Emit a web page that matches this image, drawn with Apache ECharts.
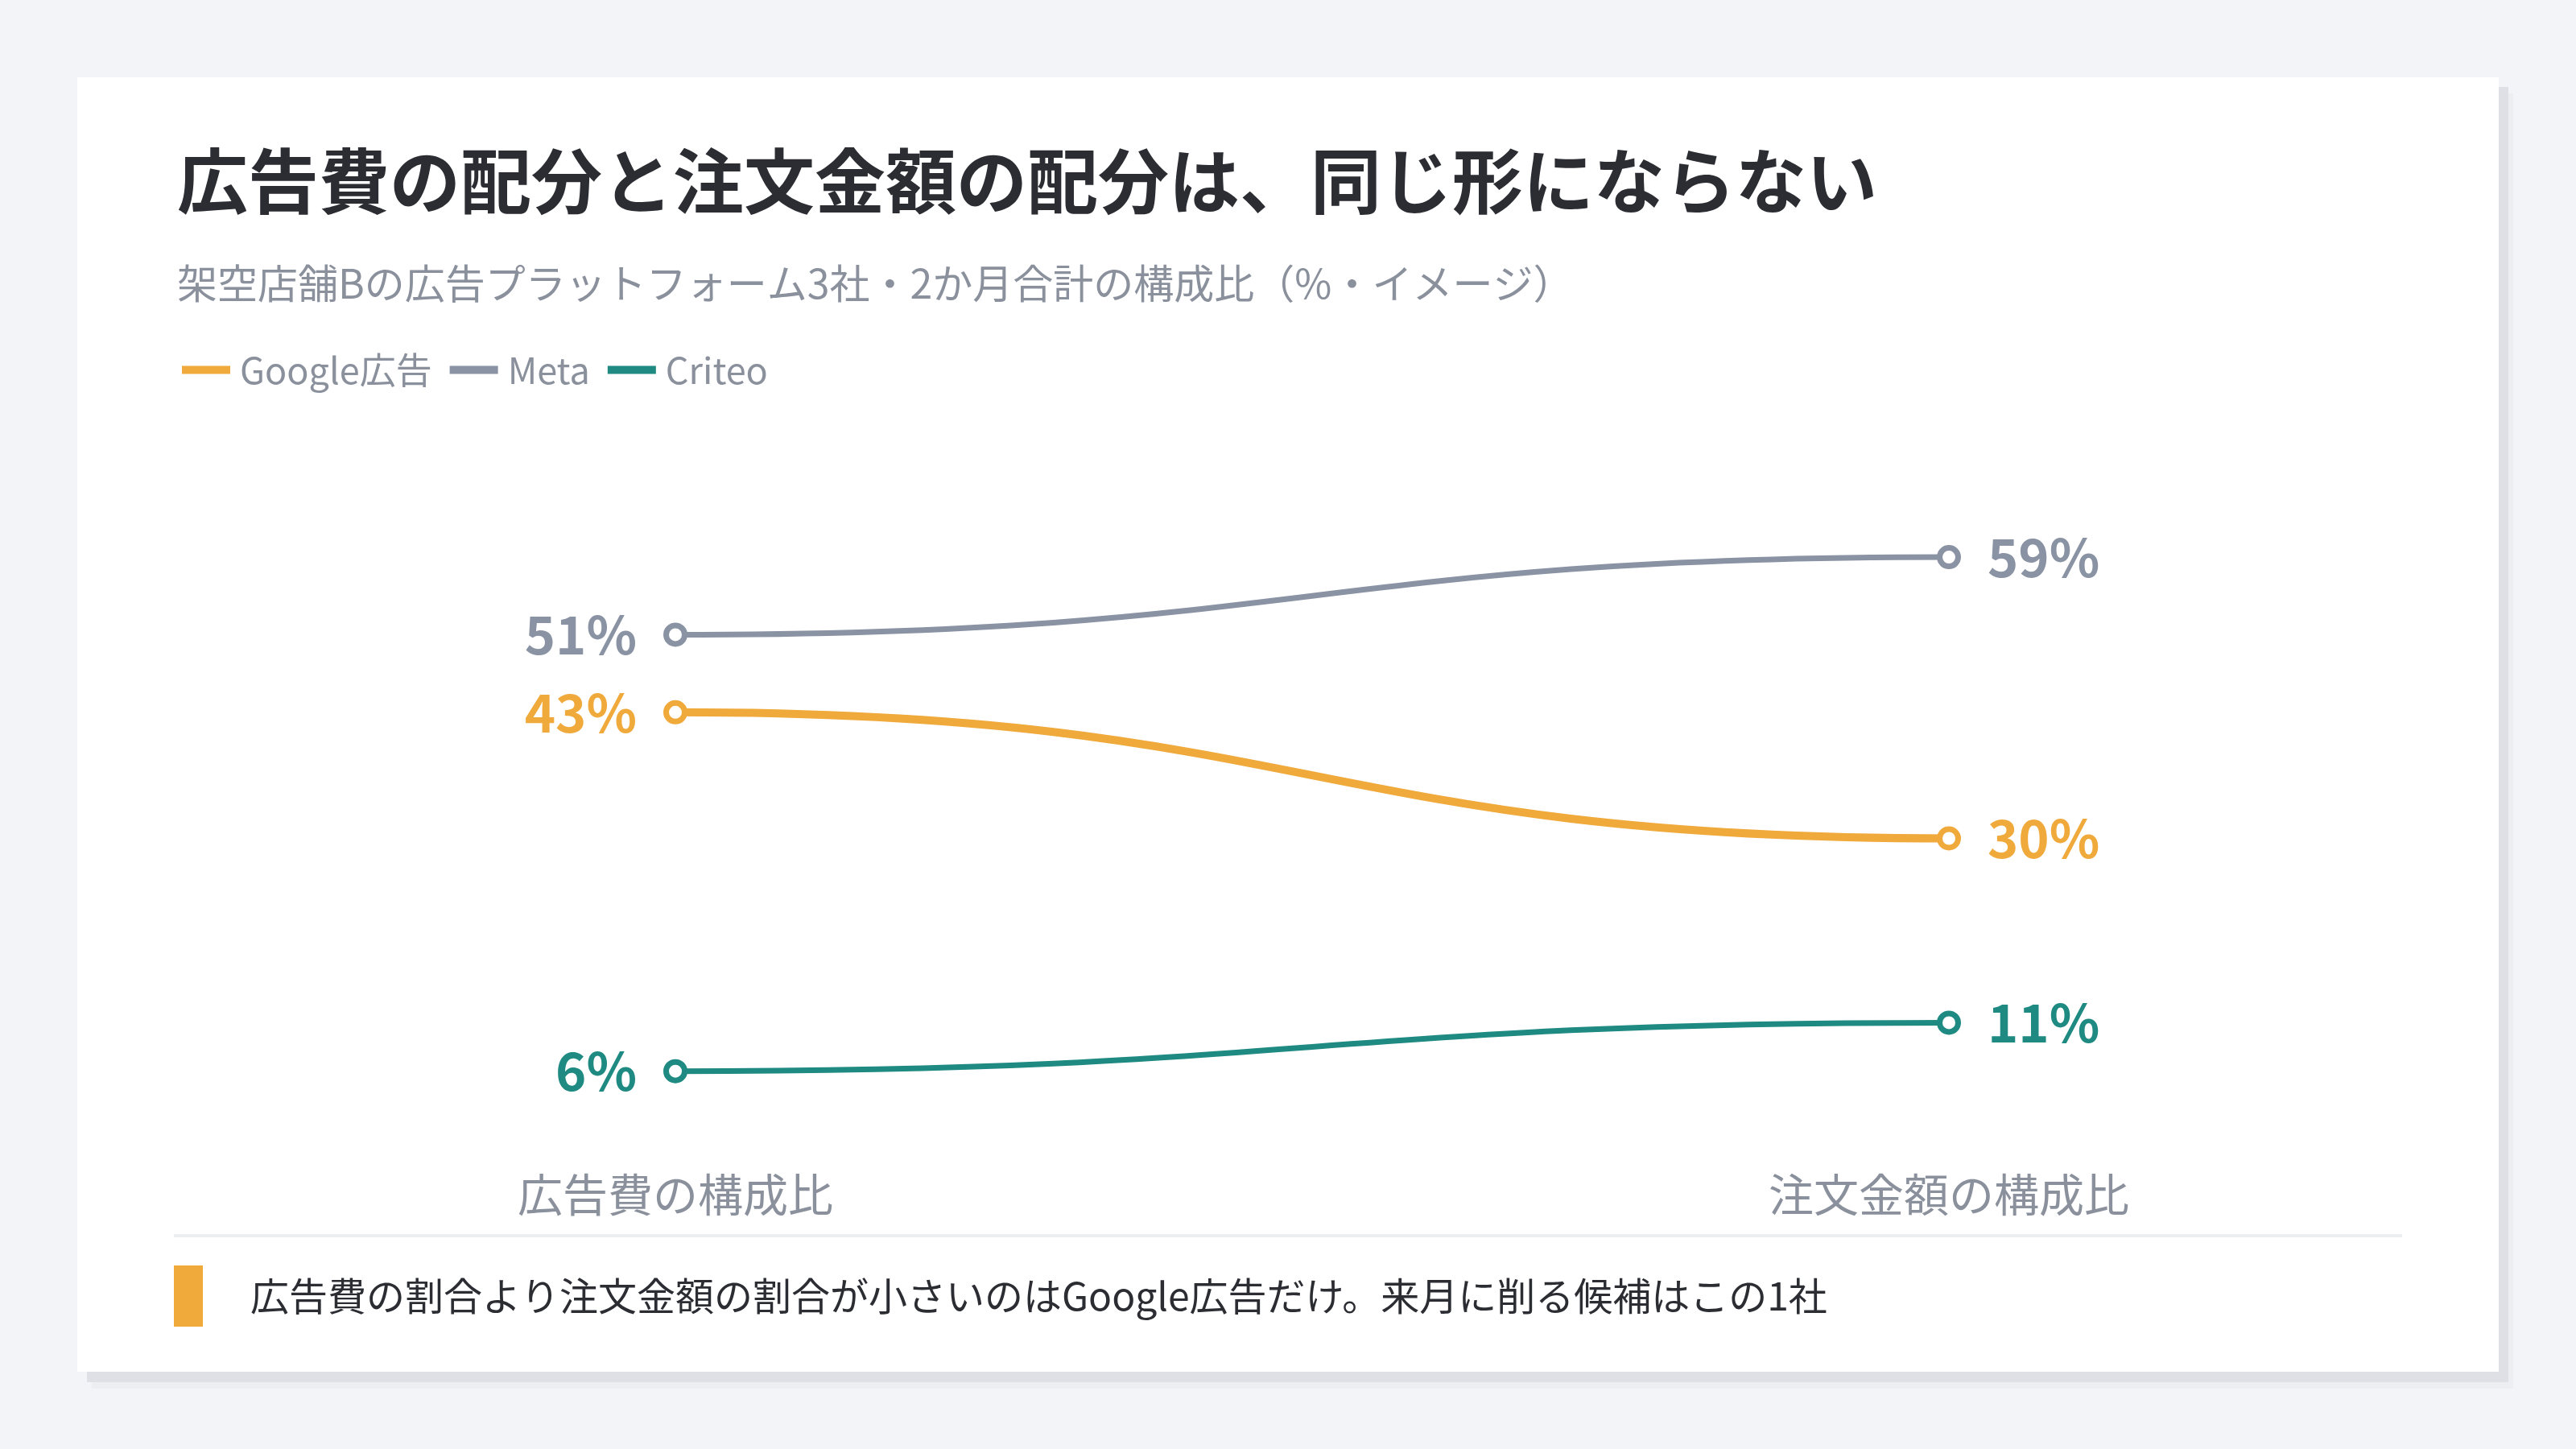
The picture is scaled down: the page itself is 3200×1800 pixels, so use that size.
<!DOCTYPE html>
<html>
<head>
<meta charset="utf-8">
<script src="https://cdn.jsdelivr.net/npm/echarts@6/dist/echarts.min.js"></script>
<style>
html,body{margin:0;padding:0;background:#f3f4f8;}
#c{width:3200px;height:1800px;}
</style>
</head>
<body>
<div id="c"></div>
<script>
// ---- data ----
const categories = ['広告費の構成比', '注文金額の構成比'];
const seriesNames = ['Google広告', 'Meta', 'Criteo'];
const googleValues = [43, 30];
const metaValues = [51, 59];
const criteoValues = [6, 11];
const titleText = '広告費の配分と注文金額の配分は、同じ形にならない';
const subtitleText = '架空店舗Bの広告プラットフォーム3社・2か月合計の構成比（%・イメージ）';
const noteText = '広告費の割合より注文金額の割合が小さいのはGoogle広告だけ。来月に削る候補はこの1社';

// ---- styles ----
const palette = ['#f0a93b', '#8a93a3', '#1f8a82'];
const lineWidths = [10, 7, 7];
const FONT = '"Noto Sans CJK JP", "Noto Sans", sans-serif';

const allValues = [googleValues, metaValues, criteoValues];

const chart = echarts.init(document.getElementById('c'), null, {renderer: 'canvas'});

const series = [];
seriesNames.forEach(function (name, i) {
  const vals = allValues[i];
  const color = palette[i];
  const lw = lineWidths[i];
  series.push({
    name: name,
    type: 'custom',
    silent: true,
    z: 2,
    itemStyle: {color: color},
    encode: {x: 0, y: [1, 2]},
    data: [[0, vals[0], vals[1]]],
    renderItem: function (params, api) {
      const p0 = api.coord([0, api.value(1)]);
      const p1 = api.coord([1, api.value(2)]);
      const mx = (p0[0] + p1[0]) / 2;
      return {
        type: 'bezierCurve',
        shape: {
          x1: p0[0], y1: p0[1],
          cpx1: mx, cpy1: p0[1],
          cpx2: mx, cpy2: p1[1],
          x2: p1[0], y2: p1[1]
        },
        style: {stroke: color, lineWidth: lw, fill: null, lineCap: 'round'}
      };
    }
  });
});
seriesNames.forEach(function (name, i) {
  const vals = allValues[i];
  const color = palette[i];
  series.push({
    name: name,
    type: 'line',
    z: 4,
    silent: true,
    symbol: 'circle',
    symbolSize: 23,
    showSymbol: true,
    lineStyle: {opacity: 0, width: 0},
    itemStyle: {color: '#ffffff', borderColor: color, borderWidth: 7},
    emphasis: {disabled: true},
    label: {
      show: true,
      formatter: '{c}%',
      fontFamily: FONT,
      fontSize: 65,
      fontWeight: 'bold',
      color: color,
      distance: 33
    },
    data: vals.map(function (v, j) {
      return {value: v, label: {position: j === 0 ? 'left' : 'right'}};
    })
  });
});

const option = {
  animation: false,
  backgroundColor: '#f3f4f8',
  textStyle: {fontFamily: FONT},
  title: {
    text: titleText,
    subtext: subtitleText,
    left: 220,
    top: 181,
    padding: 0,
    itemGap: 58,
    textStyle: {fontFamily: FONT, fontSize: 88, fontWeight: 'bold', color: '#2b2d33', lineHeight: 88},
    subtextStyle: {fontFamily: FONT, fontSize: 50, color: '#8a909c', lineHeight: 50}
  },
  legend: {
    left: 226,
    top: 437,
    padding: 0,
    itemWidth: 60,
    itemHeight: 10,
    itemGap: 22,
    textStyle: {fontFamily: FONT, fontSize: 45, color: '#8a909c', padding: [0, 0, 0, 7]},
    data: seriesNames.map(function (n, i) {
      return {name: n, icon: 'rect', itemStyle: {color: palette[i]}};
    }),
    selectedMode: false
  },
  grid: {left: 839, right: 779, top: 198, bottom: 397},
  xAxis: {
    type: 'category',
    data: categories,
    boundaryGap: false,
    axisLine: {show: false},
    axisTick: {show: false},
    splitLine: {show: false},
    axisLabel: {fontFamily: FONT, fontSize: 56, color: '#8a909c', margin: 53, lineHeight: 56, interval: 0}
  },
  yAxis: {type: 'value', min: 0, max: 100, show: false},
  graphic: [
    {type: 'rect', z: -30, silent: true, shape: {x: 114, y: 116, width: 3008, height: 1609}, style: {fill: '#eceef2'}},
    {type: 'rect', z: -20, silent: true, shape: {x: 108, y: 108, width: 3008, height: 1609}, style: {fill: '#dee0e6'}},
    {type: 'rect', z: -10, silent: true, shape: {x: 96, y: 96, width: 3008, height: 1608}, style: {fill: '#ffffff'}},
    {type: 'rect', z: 1, silent: true, shape: {x: 216, y: 1533, width: 2768, height: 4}, style: {fill: '#eceef2'}},
    {type: 'rect', z: 1, silent: true, shape: {x: 216, y: 1572, width: 36, height: 76}, style: {fill: '#f0a93b'}},
    {type: 'text', z: 1, silent: true, x: 311, y: 1610,
      style: {text: noteText, fill: '#2b2d33', fontFamily: FONT, fontSize: 48, verticalAlign: 'middle', align: 'left'}}
  ],
  series: series
};
chart.setOption(option);
</script>
</body>
</html>
